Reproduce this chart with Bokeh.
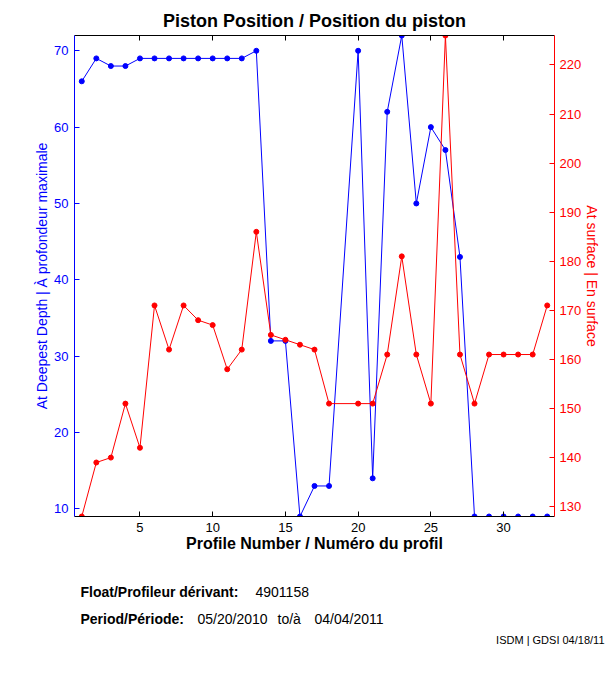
from bokeh.plotting import figure
from bokeh.models import Range1d, LinearAxis, SingleIntervalTicker
from bokeh.core.properties import value
from bokeh.embed import file_html
from bokeh.resources import INLINE

# ---- data ----
profiles = [1, 2, 3, 4, 5, 6, 7, 8, 9, 10, 11, 12, 13, 14, 15, 16, 17, 18,
            20, 21, 22, 23, 24, 25, 26, 27, 28, 29, 30, 31, 32, 33]
deepest = [66, 69, 68, 68, 69, 69, 69, 69, 69, 69, 69, 69, 70, 32, 32, 9, 13, 13,
           70, 14, 62, 72, 50, 60, 57, 43, 9, 9, 9, 9, 9, 9]
surface = [128, 139, 140, 151, 142, 171, 162, 171, 168, 167, 158, 162, 186, 165, 164, 163, 162, 151,
           151, 151, 161, 181, 161, 151, 226, 161, 151, 161, 161, 161, 161, 171]
x_ticks = [5, 10, 15, 20, 25, 30]

title_text = "Piston Position / Position du piston"
x_label = "Profile Number / Numéro du profil"
left_label = "At Deepest Depth | À profondeur maximale"
right_label = "At surface | En surface"
info_bold = ["Float/Profileur dérivant:", "Period/Période:"]
info_plain = ["4901158", "05/20/2010", "to/à", "04/04/2011"]
credit = ["ISDM | GDSI 04/18/11"]

BLUE = "#0000ff"
RED = "#ff0000"
BLACK = "#000000"
FONT = "Liberation Sans"

W = 605
H1 = 565
H2 = 95

p = figure(width=W, height=H1, output_backend="svg", toolbar_location=None,
           x_range=Range1d(0.5, 33.5), y_range=Range1d(9, 72),
           min_border_left=74, min_border_right=W - 554, min_border_top=35,
           min_border_bottom=H1 - 516)
p.outline_line_color = None
p.xgrid.visible = False
p.ygrid.visible = False
p.background_fill_color = "white"
p.border_fill_color = "white"

p.title.text = title_text
p.title.align = "center"
p.title.text_font = FONT
p.title.text_font_size = "18px"
p.title.text_font_style = "bold"
p.title.text_color = BLACK
p.title.standoff = 2

p.extra_y_ranges = {"surf": Range1d(128, 226)}


def style_axis(ax, color, label_size="13px"):
    ax.axis_line_color = color
    ax.axis_line_width = 1
    ax.major_tick_line_color = color
    ax.major_tick_in = 5
    ax.major_tick_out = 0
    ax.minor_tick_line_color = None
    ax.major_label_text_color = color
    ax.major_label_text_font = FONT
    ax.major_label_text_font_size = label_size
    ax.axis_label_text_color = color
    ax.axis_label_text_font = FONT
    ax.axis_label_text_font_style = "normal"


xax = p.xaxis[0]
xax.ticker = SingleIntervalTicker(interval=5)
style_axis(xax, BLACK)
xax.major_label_standoff = 2
xax.axis_label = x_label
xax.axis_label_text_font_size = "16px"
xax.axis_label_text_font_style = "bold"
xax.axis_label_standoff = 0

yax = p.yaxis[0]
yax.ticker = SingleIntervalTicker(interval=10)
style_axis(yax, BLUE)
yax.major_label_standoff = 2
yax.axis_label = left_label
yax.axis_label_text_font_size = "14px"
yax.axis_label_standoff = 1

rax = LinearAxis(y_range_name="surf", ticker=SingleIntervalTicker(interval=10))
style_axis(rax, RED)
rax.major_label_standoff = 1
rax.axis_label = right_label
rax.axis_label_text_font_size = "14px"
rax.axis_label_standoff = 0
p.add_layout(rax, "right")

tax = LinearAxis(ticker=SingleIntervalTicker(interval=5))
style_axis(tax, BLACK)
tax.major_label_overrides = {t: "" for t in x_ticks}
tax.major_label_text_font_size = "0px"
tax.major_label_standoff = 0
p.add_layout(tax, "above")

# series
p.line(profiles, deepest, line_color=BLUE, line_width=1)
p.scatter(profiles, deepest, size=5, fill_color=BLUE, line_color=BLUE)
p.line(profiles, surface, line_color=RED, line_width=1, y_range_name="surf")
p.scatter(profiles, surface, size=5, fill_color=RED, line_color=RED, y_range_name="surf")

# ---- info panel below the chart (pixel coordinates, y downwards) ----
q = figure(width=W, height=H2, output_backend="svg", toolbar_location=None,
           x_range=Range1d(0, W), y_range=Range1d(H2, 0),
           x_axis_location=None, y_axis_location=None, min_border=0)
q.outline_line_color = None
q.xgrid.visible = False
q.ygrid.visible = False
q.background_fill_color = "white"
q.border_fill_color = "white"

top = H1
q.text(x=[80, 80], y=[591.7 - top, 618.3 - top], text=info_bold,
       text_font=value(FONT), text_font_size="14px", text_font_style="bold",
       text_baseline="alphabetic", text_align="left", text_color=BLACK)
q.text(x=[255, 197, 277, 314], y=[591.7 - top, 618.3 - top, 618.3 - top, 618.3 - top],
       text=info_plain,
       text_font=value(FONT), text_font_size="14px",
       text_baseline="alphabetic", text_align="left", text_color=BLACK)
q.text(x=[604], y=[639 - top], text=credit,
       text_font=value(FONT), text_font_size="11px",
       text_baseline="alphabetic", text_align="right", text_color=BLACK)

open("out.html", "w").write(file_html([p, q], INLINE))
